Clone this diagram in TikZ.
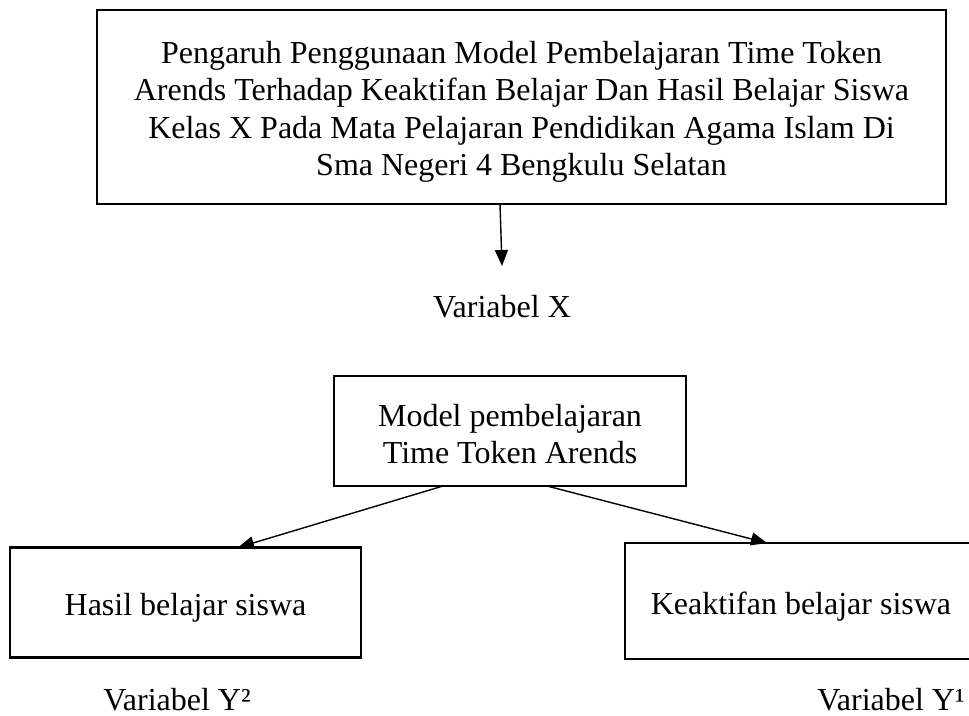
\documentclass[tikz,border=0pt]{standalone}
\usepackage{fontspec}
\setmainfont{Liberation Serif}
\usetikzlibrary{arrows.meta}
\begin{document}
\begin{tikzpicture}[x=1pt,y=-1pt,
  box/.style={draw=black,line width=2.2pt,inner sep=0pt,outer sep=0pt,align=center,
    font=\fontsize{32}{37.3}\selectfont},
  lbl/.style={inner sep=0pt,outer sep=0pt,anchor=base,font=\fontsize{32}{37.3}\selectfont},
  arr/.style={line width=1.4pt,-{Triangle[length=16pt,width=13pt]}}]
\useasboundingbox (0,0) rectangle (969,715);
\clip (0,0) rectangle (969,715);
\node[box,minimum width=849pt,minimum height=194pt] (top) at (521.5,107)
  {\rule{0pt}{32pt}Pengaruh Penggunaan Model Pembelajaran Time Token\\
   Arends Terhadap Keaktifan Belajar Dan Hasil Belajar Siswa\\
   Kelas X Pada Mata Pelajaran Pendidikan Agama Islam Di\\
   Sma Negeri 4 Bengkulu Selatan};
\node[lbl] (varx) at (502,317) {Variabel X};
\coordinate (xend) at (502,266);
\node[box,minimum width=352pt,minimum height=110pt] (mid) at (510,431)
  {\rule{0pt}{28pt}Model pembelajaran\\Time Token Arends};
\node[box,minimum width=351pt,minimum height=110pt] (hasil) at (185.5,602.5)
  {\rule{0pt}{33pt}Hasil belajar siswa};
\node[box,minimum width=352pt,minimum height=116pt] (keak) at (801,601)
  {\rule{0pt}{33pt}Keaktifan belajar siswa};
\node[lbl] (vy2) at (177,710) {Variabel Y²};
\node[lbl] (vy1) at (891,710) {Variabel Y¹};
\draw[arr] ([xshift=-21.5pt]top.south) -- (xend);
\draw[arr] ([xshift=-67pt]mid.south) -- ([xshift=52.5pt]hasil.north);
\draw[arr] ([xshift=37pt]mid.south) -- ([xshift=-34pt]keak.north);
\end{tikzpicture}
\end{document}
